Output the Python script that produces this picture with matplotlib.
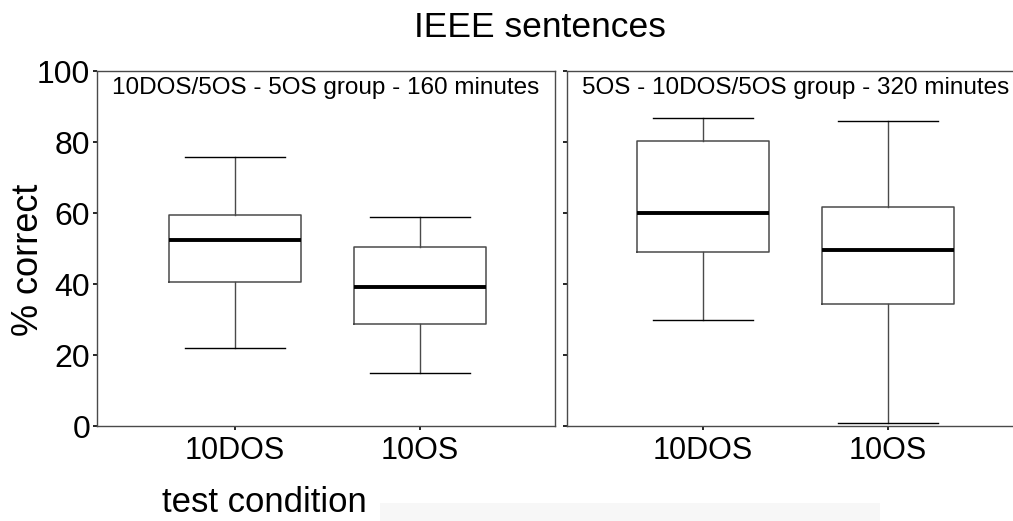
import matplotlib
matplotlib.use("Agg")
import matplotlib.pyplot as plt
from matplotlib.patches import Rectangle

plt.rcParams['font.family'] = ['Liberation Sans', 'DejaVu Sans']

# datos (bigotes, cuartiles, mediana)
conditions = ["10DOS", "10OS"]
panel_titles = ["10DOS/5OS - 5OS group - 160 minutes",
                "5OS - 10DOS/5OS group - 320 minutes"]

# panel izquierdo
left_low = [22.0, 15.0]
left_q1 = [40.6, 28.8]
left_med = [52.4, 39.1]
left_q3 = [59.4, 50.4]
left_high = [75.8, 58.8]

# panel derecho
right_low = [30.0, 0.8]
right_q1 = [49.1, 34.3]
right_med = [60.1, 49.5]
right_q3 = [80.4, 61.8]
right_high = [86.7, 85.9]

yticks = [0, 20, 40, 60, 80, 100]

edge = "#4a4a4a"


def hacer_stats(low, q1, med, q3, high):
    stats = []
    for i in range(len(conditions)):
        stats.append({"whislo": low[i], "q1": q1[i], "med": med[i],
                      "q3": q3[i], "whishi": high[i], "fliers": [],
                      "label": conditions[i]})
    return stats


def dibujar_panel(ax, stats, titulo):
    ax.bxp(stats, positions=[1, 2], widths=0.71, showfliers=False,
           boxprops=dict(color=edge, linewidth=1.1),
           whiskerprops=dict(color=edge, linewidth=1.0),
           capprops=dict(color="black", linewidth=1.0),
           medianprops=dict(color="black", linewidth=2.8),
           capwidths=0.54)
    ax.set_ylim(0, 100)
    ax.set_yticks(yticks)
    for s in ax.spines.values():
        s.set_color(edge)
        s.set_linewidth(1.0)
    ax.tick_params(axis="both", direction="out", length=3, width=1.2, color="black")
    ax.tick_params(axis="x", labelsize=22, pad=4)
    ax.tick_params(axis="y", labelsize=23, pad=2)
    ax.text(0.5, 0.985, titulo, transform=ax.transAxes, ha="center", va="top",
            fontsize=17.5)


fig = plt.figure(figsize=(10.13, 5.21), dpi=100)

ax1 = fig.add_axes([0.0958, 0.1823, 0.452, 0.681])
dibujar_panel(ax1, hacer_stats(left_low, left_q1, left_med, left_q3, left_high), panel_titles[0])
ax1.set_xlim(0.254, 2.73)

ax2 = fig.add_axes([0.5597, 0.1823, 0.452, 0.681])
dibujar_panel(ax2, hacer_stats(right_low, right_q1, right_med, right_q3, right_high), panel_titles[1])
ax2.set_xlim(0.265, 2.74)
ax2.set_yticklabels([])
ax2.spines["right"].set_visible(False)

fig.text(0.533, 0.929, "IEEE sentences", ha="center", va="baseline", fontsize=25.5)
fig.text(0.028, 0.501, "% correct", ha="center", va="center", rotation=90, fontsize=26)
fig.text(0.16, 0.018, "test condition", ha="left", va="baseline", fontsize=25)

# banda gris muy clara al pie
fig.patches.append(Rectangle((0.375, 0.0), 0.494, 0.034, transform=fig.transFigure,
                             facecolor="#f7f7f7", edgecolor="none", zorder=0))

fig.savefig("out.png", dpi=100)
